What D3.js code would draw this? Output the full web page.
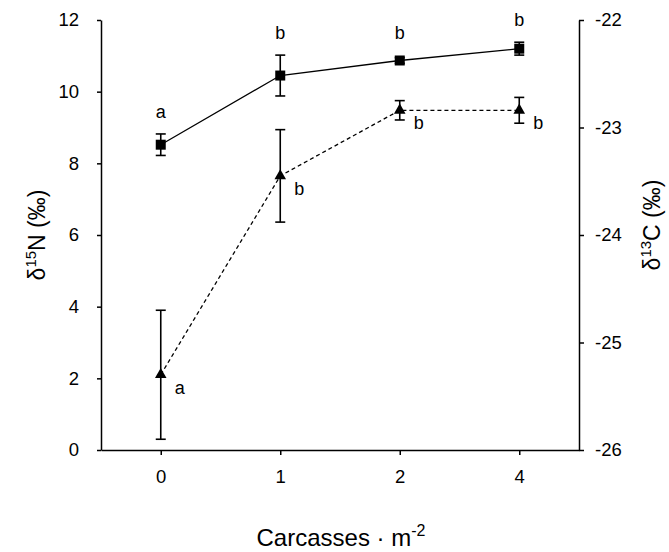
<!DOCTYPE html>
<html>
<head>
<meta charset="utf-8">
<script src="https://cdn.jsdelivr.net/npm/d3@7"></script>
<style>
    body { margin: 0; background: #fff; }
    .axis text { font-family: 'Liberation Sans', Arial, Helvetica, sans-serif; font-size: 18.5px; fill: #000; }
    .axis path, .axis line { stroke: #000; stroke-width: 1.5px; }
    .label { font-family: 'Liberation Sans', Arial, Helvetica, sans-serif; fill: #000; }
</style>
</head>
<body>
<script>

(function(){

// DATA

    const carcasses = ['0', '1', '2', '4'];

    const nitrogenMean = [8.52, 10.45, 10.87, 11.2],
        nitrogenSE = [0.3, 0.57, 0.08, 0.18],
        nitrogenLetters = ['a', 'b', 'b', 'b'];

    const carbonMean = [-25.3, -23.45, -22.84, -22.84],
        carbonSE = [0.6, 0.43, 0.09, 0.12],
        carbonLetters = ['a', 'b', 'b', 'b'];

    const nitrogenTicks = [0, 2, 4, 6, 8, 10, 12],
        carbonTicks = [-26, -25, -24, -23, -22];


// SETUP

    const width = 669,
        height = 552,
        left = 101,
        right = 579,
        top = 20,
        bottom = 450;

    const svg = d3
        .select('body')
        .append('svg')
        .attr('width', width)
        .attr('height', height);

    const x = d3.scalePoint()
        .domain(carcasses)
        .range([left, right])
        .padding(0.5);

    const yN = d3.scaleLinear()
        .domain([0, 12])
        .range([bottom, top]);

    const yC = d3.scaleLinear()
        .domain([-26, -22])
        .range([bottom, top]);

    const nitrogen = carcasses.map(function(c, i){
        return {cat: c, mean: nitrogenMean[i], se: nitrogenSE[i], letter: nitrogenLetters[i]};
    });
    const carbon = carcasses.map(function(c, i){
        return {cat: c, mean: carbonMean[i], se: carbonSE[i], letter: carbonLetters[i]};
    });


// AXES

    // plain hyphen minus like the original figure
    const plain = function(d){ return String(d); };

    svg.append('g')
        .attr('class', 'axis')
        .attr('transform', 'translate(0,' + bottom + ')')
        .call(d3.axisBottom(x).tickSizeInner(5).tickSizeOuter(0).tickPadding(15));

    svg.append('g')
        .attr('class', 'axis')
        .attr('transform', 'translate(' + left + ',0)')
        .call(d3.axisLeft(yN).tickValues(nitrogenTicks).tickFormat(plain)
            .tickSizeInner(4).tickSizeOuter(0).tickPadding(18));

    svg.append('g')
        .attr('class', 'axis')
        .attr('transform', 'translate(' + right + ',0)')
        .call(d3.axisRight(yC).tickValues(carbonTicks).tickFormat(plain)
            .tickSizeInner(5).tickSizeOuter(0).tickPadding(11));

    const yLabelN = svg.append('text')
        .attr('class', 'label')
        .attr('transform', 'translate(45,235) rotate(-90)')
        .attr('text-anchor', 'middle')
        .style('font-size', '23px');
    yLabelN.append('tspan').text('δ');
    yLabelN.append('tspan').attr('dy', -9).style('font-size', '15px').text('15');
    yLabelN.append('tspan').attr('dy', 9).text('N (‰)');

    const yLabelC = svg.append('text')
        .attr('class', 'label')
        .attr('transform', 'translate(660,225) rotate(-90)')
        .attr('text-anchor', 'middle')
        .style('font-size', '23px');
    yLabelC.append('tspan').text('δ');
    yLabelC.append('tspan').attr('dy', -9).style('font-size', '15px').text('13');
    yLabelC.append('tspan').attr('dy', 9).text('C (‰)');

    const xLabel = svg.append('text')
        .attr('class', 'label')
        .attr('x', (left + right) / 2 + 1)
        .attr('y', 546)
        .attr('text-anchor', 'middle')
        .style('font-size', '24px');
    xLabel.append('tspan').text('Carcasses · m');
    xLabel.append('tspan').attr('dy', -10).style('font-size', '16px').text('-2');


// SERIES

    function drawSeries(data, y, dashed, symbol){
        const line = d3.line()
            .x(function(d){ return x(d.cat); })
            .y(function(d){ return y(d.mean); });

        svg.append('path')
            .datum(data)
            .attr('d', line)
            .attr('fill', 'none')
            .attr('stroke', '#000')
            .attr('stroke-width', 1.3)
            .attr('stroke-dasharray', dashed ? '4,3' : null);

        const bars = svg.selectAll(null)
            .data(data)
            .enter()
            .append('g')
            .attr('stroke', '#000')
            .attr('stroke-width', 1.6);

        bars.append('line')
            .attr('x1', function(d){ return x(d.cat); })
            .attr('x2', function(d){ return x(d.cat); })
            .attr('y1', function(d){ return y(d.mean - d.se); })
            .attr('y2', function(d){ return y(d.mean + d.se); });

        [-1, 1].forEach(function(s){
            bars.append('line')
                .attr('x1', function(d){ return x(d.cat) - 5; })
                .attr('x2', function(d){ return x(d.cat) + 5; })
                .attr('y1', function(d){ return y(d.mean + s * d.se); })
                .attr('y2', function(d){ return y(d.mean + s * d.se); });
        });

        svg.selectAll(null)
            .data(data)
            .enter()
            .append('path')
            .attr('d', d3.symbol().type(symbol.type).size(symbol.size))
            .attr('transform', function(d){
                return 'translate(' + x(d.cat) + ',' + y(d.mean) + ')';
            })
            .attr('fill', '#000');
    };

    drawSeries(carbon, yC, true, {type: d3.symbolTriangle, size: 58});
    drawSeries(nitrogen, yN, false, {type: d3.symbolSquare, size: 100});


// LETTERS

    svg.selectAll(null)
        .data(nitrogen)
        .enter()
        .append('text')
        .attr('class', 'label')
        .attr('x', function(d){ return x(d.cat); })
        .attr('y', function(d){
            return Math.min(yN(d.mean + d.se), yN(d.mean) - 5) - 16;
        })
        .attr('text-anchor', 'middle')
        .style('font-size', '18px')
        .text(function(d){ return d.letter; });

    svg.selectAll(null)
        .data(carbon)
        .enter()
        .append('text')
        .attr('class', 'label')
        .attr('x', function(d){ return x(d.cat) + 14; })
        .attr('y', function(d){ return yC(d.mean) + 19; })
        .style('font-size', '18px')
        .text(function(d){ return d.letter; });

})();

</script>
</body>
</html>
